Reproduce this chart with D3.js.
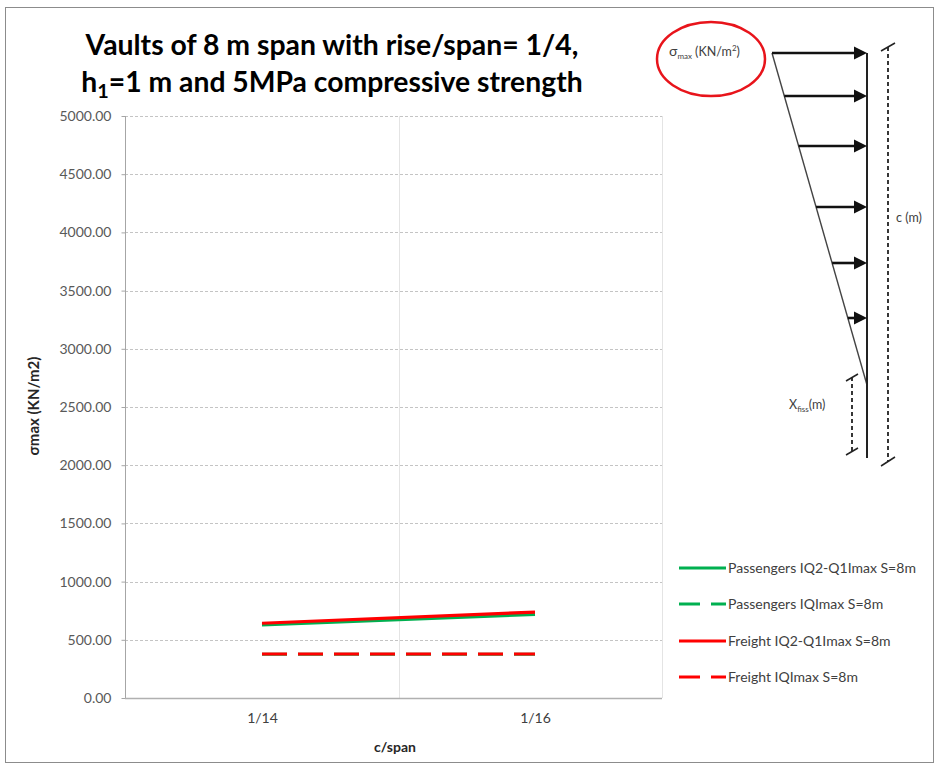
<!DOCTYPE html>
<html>
<head>
<meta charset="utf-8">
<script src="https://cdn.jsdelivr.net/npm/d3@7"></script>
<style>
  html, body { margin: 0; padding: 0; background: #fff; }
  svg { display: block; }
  text { font-family: Lato, "Open Sans", sans-serif; }
</style>
</head>
<body>
<svg id="chart" width="939" height="774"></svg>
<script>
// ---------- data ----------
const categories = ["1/14", "1/16"];
const passengersQ2Q1 = [628, 718];
const passengersQ = [376, 376];
const freightQ2Q1 = [642, 738];
const freightQ = [378, 378];
const yTicks = [0, 500, 1000, 1500, 2000, 2500, 3000, 3500, 4000, 4500, 5000];
const seriesNames = [
  "Passengers IQ2-Q1Imax S=8m",
  "Passengers IQImax S=8m",
  "Freight IQ2-Q1Imax S=8m",
  "Freight IQImax S=8m"
];
const titleLines = ["Vaults of 8 m span with rise/span= 1/4,", "h1=1 m and 5MPa compressive strength"];
const xTitle = "c/span";
const yTitle = "σmax (KN/m2)";

(function () {
// ---------- layout ----------
const svg = d3.select("#chart");
const plot = { left: 125, right: 662, top: 116, bottom: 698 };
const GREEN = "#00b050", RED = "#ff0000";

const series = [
  { name: seriesNames[0], values: passengersQ2Q1, color: GREEN, dash: null },
  { name: seriesNames[1], values: passengersQ, color: GREEN, dash: "25,11" },
  { name: seriesNames[2], values: freightQ2Q1, color: RED, dash: null },
  { name: seriesNames[3], values: freightQ, color: RED, dash: "25,11" }
];

// outer border
svg.append("rect").attr("x", 5.5).attr("y", 7.5).attr("width", 928).attr("height", 755)
  .attr("fill", "none").attr("stroke", "#8c8c8c").attr("stroke-width", 1);

const y = d3.scaleLinear().domain([0, 5000]).range([plot.bottom, plot.top]);
const x = d3.scalePoint().domain(categories).range([262, 535]);

// horizontal gridlines
svg.append("g").selectAll("line").data(yTicks.filter(d => d > 0)).join("line")
  .attr("x1", plot.left).attr("x2", plot.right)
  .attr("y1", d => Math.round(y(d)) + 0.5).attr("y2", d => Math.round(y(d)) + 0.5)
  .attr("stroke", "#c4c4c4").attr("stroke-dasharray", "3,2").attr("stroke-width", 1);

// vertical gridlines (category boundaries)
const midX = (x(categories[0]) + x(categories[1])) / 2;
[midX, plot.right].forEach(vx => {
  svg.append("line").attr("x1", Math.round(vx) + 0.5).attr("x2", Math.round(vx) + 0.5)
    .attr("y1", plot.top).attr("y2", plot.bottom)
    .attr("stroke", "#e4e4e4").attr("stroke-width", 1);
});

// y axis
const yAxis = d3.axisLeft(y).tickValues(yTicks).tickFormat(d3.format(".2f")).tickSize(4).tickPadding(10);
const gy = svg.append("g").attr("transform", `translate(${plot.left + 0.5},0)`).call(yAxis);
gy.select(".domain").attr("stroke", "#a6a6a6").attr("d", `M-0,${plot.top}V${plot.bottom}`);
gy.selectAll(".tick line").attr("stroke", "#a6a6a6");
gy.selectAll(".tick text").attr("fill", "#595959").style("font-size", "14px").style("font-family", "Lato, sans-serif");

// x axis
const xAxis = d3.axisBottom(x).tickSize(0).tickPadding(15);
const gx = svg.append("g").attr("transform", `translate(0,${plot.bottom + 0.5})`).call(xAxis);
gx.select(".domain").attr("stroke", "#b0b0b0").attr("stroke-width", 1.5).attr("d", `M${plot.left},0H${plot.right}`);
gx.selectAll(".tick text").attr("fill", "#404040").style("font-size", "14px").style("font-family", "Lato, sans-serif");

// axis titles
svg.append("text").attr("x", 395).attr("y", 752).attr("text-anchor", "middle")
  .style("font-size", "14px").style("font-weight", "bold").attr("fill", "#262626").text(xTitle);
svg.append("text").attr("transform", "translate(39,406) rotate(-90)").attr("text-anchor", "middle")
  .style("font-size", "15px").style("font-weight", "bold").attr("fill", "#262626").text(yTitle);

// lines
const line = d3.line().x((d, i) => x(categories[i])).y(d => y(d));
[1, 3, 0, 2].forEach(k => {
  const s = series[k];
  svg.append("path").datum(s.values).attr("d", line).attr("fill", "none")
    .attr("stroke", s.color).attr("stroke-width", 3.2)
    .attr("stroke-dasharray", s.dash);
});

// legend
const legendY = [568, 604, 641, 677];
const legendTexts = [];
series.forEach((s, i) => {
  const g = svg.append("g").attr("transform", `translate(679,${legendY[i]})`);
  g.append("line").attr("x1", 0).attr("x2", 47).attr("y1", 0).attr("y2", 0)
    .attr("stroke", s.color).attr("stroke-width", 3).attr("stroke-dasharray", s.dash ? "21,11" : null);
  legendTexts.push(g.append("text").attr("x", 49).attr("y", 5).style("font-size", "13px").attr("fill", "#404040").text(s.name));
});
const legW = legendTexts[0].node().getComputedTextLength();
const legFs = Math.min(14.5, 13 * 188 / legW);
legendTexts.forEach(t => t.style("font-size", legFs + "px"));

// title (fit widths)
function fitText(sel, target) {
  const w = sel.node().getComputedTextLength();
  const fs = parseFloat(sel.style("font-size"));
  sel.style("font-size", (fs * target / w) + "px");
}
const t1 = svg.append("text").attr("x", 332).attr("y", 55).attr("text-anchor", "middle")
  .style("font-size", "24px").style("font-weight", "bold").attr("fill", "#000").text(titleLines[0]);
fitText(t1, 493);
const t2 = svg.append("text").attr("x", 332).attr("y", 92).attr("text-anchor", "middle")
  .style("font-size", "24px").style("font-weight", "bold").attr("fill", "#000");
t2.append("tspan").text("h");
t2.append("tspan").attr("dy", 6).style("font-size", "16px").text("1");
t2.append("tspan").attr("dy", -6).text("=1 m and 5MPa compressive strength");
fitText(t2, 501);
t2.selectAll("tspan").filter((d, i) => i === 1).style("font-size", "0.7em");

// ---------- schematic stress diagram (annotation) ----------
const dg = svg.append("g");
const apex = { x: 772, y: 53 }, wallX = 867, hypBottom = 385, wallBottom = 458;
// red ellipse
dg.append("ellipse").attr("cx", 711).attr("cy", 59).attr("rx", 54).attr("ry", 37)
  .attr("fill", "none").attr("stroke", "#e8141b").attr("stroke-width", 2.5);
const lbl = dg.append("text").attr("x", 669).attr("y", 56).style("font-size", "12.5px").attr("fill", "#404040");
lbl.append("tspan").style("font-size", "14px").text("σ");
lbl.append("tspan").attr("dy", 3).style("font-size", "8px").text("max");
lbl.append("tspan").attr("dy", -3).text(" (KN/m");
lbl.append("tspan").attr("dy", -5).style("font-size", "8px").text("2");
lbl.append("tspan").attr("dy", 5).text(")");
// hypotenuse and wall
dg.append("line").attr("x1", apex.x).attr("y1", apex.y).attr("x2", wallX).attr("y2", hypBottom)
  .attr("stroke", "#444").attr("stroke-width", 1.4);
dg.append("line").attr("x1", wallX).attr("y1", apex.y).attr("x2", wallX).attr("y2", wallBottom)
  .attr("stroke", "#222").attr("stroke-width", 2);
// arrows
const arrowYs = [53, 96, 146, 207, 263, 318];
const hx = yy => apex.x + (yy - apex.y) * (wallX - apex.x) / (hypBottom - apex.y);
arrowYs.forEach(ay => {
  dg.append("line").attr("x1", hx(ay)).attr("y1", ay).attr("x2", wallX - 10).attr("y2", ay)
    .attr("stroke", "#111").attr("stroke-width", 2.6);
  dg.append("path").attr("d", `M${wallX},${ay}L${wallX - 13},${ay - 6.5}L${wallX - 13},${ay + 6.5}Z`).attr("fill", "#111");
});
// c (m) dimension
dg.append("line").attr("x1", 888).attr("y1", 47).attr("x2", 888).attr("y2", 462)
  .attr("stroke", "#222").attr("stroke-width", 1.8).attr("stroke-dasharray", "4,3");
dg.append("line").attr("x1", 881).attr("y1", 51).attr("x2", 895).attr("y2", 43).attr("stroke", "#222").attr("stroke-width", 1.5);
dg.append("line").attr("x1", 881).attr("y1", 466).attr("x2", 895).attr("y2", 457).attr("stroke", "#222").attr("stroke-width", 1.5);
dg.append("text").attr("x", 896).attr("y", 222).style("font-size", "12.5px").attr("fill", "#404040").text("c (m)");
// Xfiss dimension
dg.append("line").attr("x1", 852).attr("y1", 377).attr("x2", 852).attr("y2", 451)
  .attr("stroke", "#222").attr("stroke-width", 1.8).attr("stroke-dasharray", "4,3");
dg.append("line").attr("x1", 846).attr("y1", 381).attr("x2", 858).attr("y2", 374).attr("stroke", "#222").attr("stroke-width", 1.5);
dg.append("line").attr("x1", 846).attr("y1", 455).attr("x2", 858).attr("y2", 448).attr("stroke", "#222").attr("stroke-width", 1.5);
const xf = dg.append("text").attr("x", 789).attr("y", 409).style("font-size", "12.5px").attr("fill", "#404040");
xf.append("tspan").text("X");
xf.append("tspan").attr("dy", 3).style("font-size", "8px").text("fiss");
xf.append("tspan").attr("dy", -3).text("(m)");
})();
</script>
</body>
</html>
